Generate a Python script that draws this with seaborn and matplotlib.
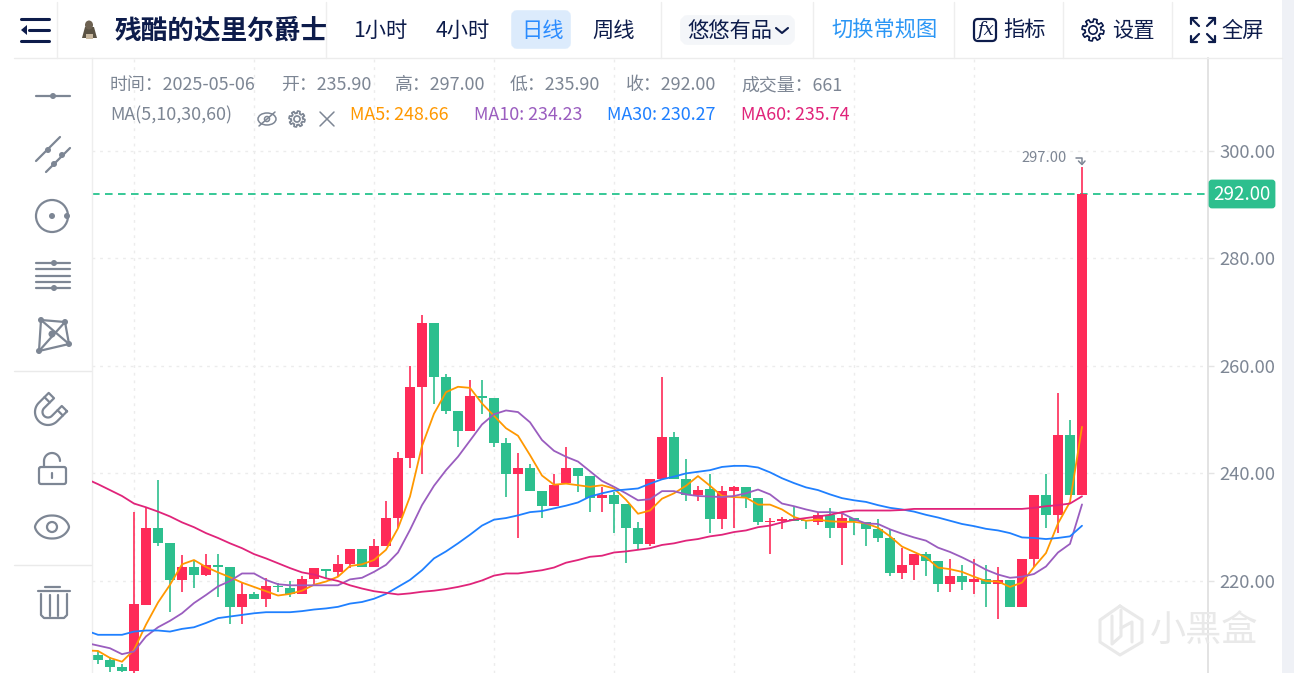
import numpy as np
import pandas as pd
import matplotlib
matplotlib.use('Agg')
import matplotlib.pyplot as plt
import seaborn as sns
from matplotlib.patches import Circle, Ellipse, FancyBboxPatch, Polygon, Rectangle

W, H = 1294, 673

# daily candles, first one sits at x=98, last one is 2025-05-06
opens = [206.2, 205.3, 204.0, 203.2, 215.6, 229.9, 227.1, 220.1, 222.6, 221.2,
         222.9, 222.6, 215.2, 217.6, 216.6, 219.0, 218.7, 217.6, 220.4, 222.3,
         221.7, 223.2, 226.0, 222.6, 226.5, 231.8, 242.9, 256.0, 268.0, 258.0,
         251.6, 247.9, 254.4, 254.1, 245.7, 239.9, 241.0, 236.8, 234.0, 238.2,
         241.0, 239.6, 235.4, 235.9, 234.3, 229.9, 226.8, 239.0, 246.8, 239.0,
         236.0, 237.1, 231.5, 236.8, 237.4, 235.4, 231.0, 231.2, 231.5, 231.4,
         231.0, 232.3, 229.9, 231.8, 231.0, 229.6, 227.9, 221.5, 222.9, 225.1,
         223.8, 219.5, 221.0, 219.9, 220.4, 219.5, 220.1, 215.1, 224.1, 236.0,
         232.3, 247.1, 235.9]
closes = [205.4, 204.0, 203.2, 215.8, 229.9, 227.1, 220.1, 222.6, 221.2, 222.9,
          222.6, 215.2, 217.6, 216.6, 219.0, 218.8, 217.6, 220.4, 222.4, 221.9,
          223.2, 226.0, 222.6, 226.5, 231.8, 242.9, 256.0, 268.0, 258.0, 251.6,
          247.9, 254.4, 254.1, 245.7, 239.9, 241.0, 236.8, 234.0, 237.9, 241.0,
          239.6, 235.4, 235.9, 234.3, 229.9, 226.8, 239.0, 246.8, 239.0, 236.0,
          237.0, 231.5, 236.8, 237.4, 235.4, 231.0, 231.2, 231.5, 231.2, 231.2,
          232.3, 229.9, 231.8, 231.2, 229.6, 227.9, 221.5, 222.9, 225.1, 223.8,
          219.5, 221.0, 219.9, 220.4, 219.5, 220.1, 215.1, 224.1, 236.0, 232.3,
          247.1, 236.0, 292.0]
highs = [206.9, 205.9, 204.5, 232.9, 233.8, 238.8, 227.1, 224.8, 223.7, 225.0,
         225.0, 222.6, 219.6, 218.0, 220.5, 219.6, 220.0, 221.0, 222.4, 222.3,
         224.8, 226.0, 226.0, 227.8, 234.8, 244.0, 259.9, 269.4, 268.0, 258.4,
         251.6, 257.4, 257.4, 254.1, 246.6, 243.8, 241.8, 236.8, 239.9, 244.9,
         241.0, 239.6, 237.4, 236.6, 234.3, 231.0, 239.0, 258.0, 247.7, 242.6,
         237.7, 239.9, 237.7, 237.7, 237.4, 235.4, 231.8, 231.9, 233.8, 231.4,
         232.9, 233.5, 232.6, 231.8, 231.0, 231.5, 229.6, 226.2, 225.1, 225.4,
         223.8, 224.0, 222.9, 224.0, 222.9, 222.6, 220.1, 224.1, 236.0, 239.9,
         255.0, 249.9, 297.0]
lows = [204.6, 203.0, 203.0, 202.6, 215.5, 226.5, 214.3, 217.9, 218.7, 221.0,
        217.1, 212.1, 212.1, 216.6, 215.2, 217.9, 217.1, 217.6, 219.5, 220.5,
        221.0, 222.4, 222.6, 222.6, 226.5, 229.9, 241.0, 239.9, 252.9, 251.0,
        244.9, 247.9, 251.0, 244.9, 235.7, 227.9, 236.8, 231.8, 234.0, 238.2,
        236.6, 232.9, 232.9, 229.0, 223.4, 226.0, 226.5, 239.0, 239.0, 234.9,
        234.9, 229.0, 229.6, 229.9, 233.5, 230.4, 225.1, 229.6, 231.2, 229.6,
        230.4, 227.9, 222.9, 228.5, 226.5, 227.3, 221.0, 220.4, 220.1, 221.0,
        217.9, 217.9, 218.4, 217.6, 215.1, 212.9, 215.1, 215.1, 222.6, 229.9,
        229.0, 236.0, 235.9]

# first value of each MA belongs to the day just left of the plot
ma5 = [207.1, 207.0, 205.7, 205.0, 207.2, 211.9, 216.0, 219.3, 223.1, 223.9, 222.6,
       221.6, 220.7, 219.7, 218.9, 218.1, 217.3, 217.6, 218.2, 219.3, 219.9,
       220.8, 222.8, 223.1, 223.9, 225.8, 229.8, 235.7, 245.1, 251.1, 255.1,
       256.1, 255.9, 253.0, 250.7, 248.4, 247.0, 243.4, 239.6, 237.9, 238.1,
       237.8, 237.5, 237.8, 237.2, 235.1, 232.5, 233.1, 235.3, 236.3, 237.7,
       239.5, 237.7, 235.8, 235.6, 235.5, 234.2, 234.2, 233.3, 231.9, 231.2,
       231.4, 231.1, 231.0, 231.0, 230.7, 229.9, 228.3, 226.4, 225.4, 224.4,
       222.5, 222.2, 221.7, 220.8, 220.0, 219.9, 218.9, 219.7, 222.6, 225.2,
       230.7, 234.7, 248.66]
ma10 = [208.5, 208.0, 207.5, 206.4, 206.9, 209.7, 211.4, 212.6, 214.0, 215.9, 217.4,
        219.0, 220.0, 221.4, 221.4, 220.2, 219.4, 219.2, 219.2, 219.2, 219.2,
        219.2, 220.3, 220.6, 221.7, 223.0, 225.3, 229.5, 234.1, 237.7, 240.6,
        243.1, 246.1, 249.1, 251.0, 251.7, 251.4, 249.5, 246.2, 244.2, 243.1,
        242.2, 240.4, 238.6, 237.5, 236.3, 235.0, 235.2, 236.7, 236.7, 236.1,
        235.8, 235.7, 235.6, 235.8, 236.3, 237.0, 236.1, 234.4, 233.9, 233.3,
        232.8, 232.8, 232.6, 231.5, 230.7, 230.6, 229.6, 228.8, 228.1, 227.5,
        226.2, 225.4, 224.4, 223.3, 222.1, 221.2, 220.6, 220.8, 221.3, 222.7,
        225.3, 226.9, 234.23]
ma30 = [210.8, 210.0, 210.0, 210.0, 210.6, 210.8, 210.8, 210.6, 211.1, 211.4, 212.2,
        213.1, 213.4, 213.7, 214.0, 214.2, 214.2, 214.2, 214.4, 214.7, 214.9,
        215.2, 215.8, 216.1, 216.7, 217.6, 218.9, 220.2, 222.0, 224.2, 225.5,
        227.0, 228.6, 230.3, 231.4, 231.7, 232.2, 232.8, 233.0, 233.5, 234.0,
        234.6, 235.7, 236.3, 236.8, 237.0, 237.2, 238.1, 238.9, 239.4, 240.0,
        240.3, 240.6, 241.2, 241.4, 241.4, 241.1, 240.2, 239.1, 238.2, 237.4,
        236.9, 236.1, 235.4, 235.0, 234.7, 234.1, 233.6, 233.3, 232.9, 232.3,
        231.8, 231.2, 230.6, 230.2, 229.7, 229.4, 228.9, 228.1, 228.0, 227.8,
        228.0, 228.3, 230.27]
ma60 = [239.0, 238.0, 236.9, 235.8, 234.4, 233.7, 232.9, 232.0, 230.9, 230.0, 228.9,
        228.0, 227.0, 226.1, 225.0, 224.2, 223.3, 222.4, 221.6, 221.2, 220.5,
        220.0, 219.2, 218.6, 218.1, 217.8, 217.5, 217.7, 218.0, 218.2, 218.5,
        218.9, 219.4, 220.1, 221.0, 221.4, 221.4, 221.7, 222.0, 222.5, 223.4,
        223.9, 224.5, 224.7, 225.3, 225.5, 225.8, 226.1, 226.7, 227.0, 227.5,
        227.8, 228.3, 228.6, 229.1, 229.4, 230.0, 230.3, 230.9, 231.4, 231.7,
        232.0, 232.3, 232.8, 233.1, 233.1, 233.1, 233.1, 233.2, 233.4, 233.4,
        233.4, 233.4, 233.4, 233.4, 233.4, 233.4, 233.4, 233.4, 233.6, 233.9,
        234.1, 234.4, 235.74]

y_ticks = [220, 240, 260, 280, 300]
last_price = 292.0

RED = '#fe2b58'
GREEN = '#2dbf8e'
GREY = '#7d8694'
NAVY = '#0d1c4b'
MA_COLORS = {'MA5': '#ff9800', 'MA10': '#9a5dbf', 'MA30': '#1f80ff', 'MA60': '#e0247a'}
COLON = '\uff1a'

sns.set_style('white')
plt.rcParams['font.family'] = ['Noto Sans CJK SC', 'DejaVu Sans']

fig = plt.figure(figsize=(W / 100, H / 100), dpi=100, facecolor='white')

# chart area in pixels: x 92..1208, y 58..673 ; 12 px per candle, 5.38 px per unit
ax = fig.add_axes([92 / W, 0, (1208 - 92) / W, (H - 58) / H])
ax.set_xlim((92 - 98) / 12, (1208 - 98) / 12)
ax.set_ylim(300 - (673 - 150.6) / 5.38, 300 + (150.6 - 58) / 5.38)

days = np.arange(len(opens))
o, c, hi, lo = map(np.array, (opens, closes, highs, lows))
up = c >= o
colors = np.where(up, RED, GREEN)

ax.vlines(days, lo, hi, colors=colors, linewidth=1.2, zorder=2)
ax.bar(days, np.maximum(np.abs(c - o), 0.2), bottom=np.minimum(o, c), width=0.88,
       color=colors, linewidth=0, zorder=2)

ma_days = np.arange(-1, len(opens))
ma_df = pd.DataFrame({'day': ma_days, 'MA5': ma5, 'MA10': ma10, 'MA30': ma30, 'MA60': ma60})
ma_df = ma_df.melt('day', var_name='ma', value_name='price')
sns.lineplot(data=ma_df, x='day', y='price', hue='ma', palette=MA_COLORS, linewidth=1.3,
             legend=False, ax=ax, zorder=3, errorbar=None)

ax.axhline(last_price, color='#26c48e', linewidth=1.3, linestyle=(0, (4.2, 3)), zorder=1.5)

ax.set_xlabel('')
ax.set_ylabel('')
ax.set_xticks(np.arange(3, 83, 10))
ax.tick_params(axis='x', length=0, labelbottom=False)
ax.yaxis.tick_right()
ax.set_yticks(y_ticks)
ax.set_yticklabels([f'{v:.2f}' for v in y_ticks], fontsize=13.3, color=GREY)
ax.tick_params(axis='y', length=4, width=1, color='#e4e4e4', pad=4.5, right=True, left=False)
ax.grid(True, color='#ececec', linewidth=1, linestyle=(0, (2, 3.5)), zorder=0)
ax.set_axisbelow(True)
for side in ['top', 'bottom']:
    ax.spines[side].set_visible(False)
ax.spines['left'].set_color('#eeeeee')
ax.spines['right'].set_color('#dedede')
ax.spines['left'].set_linewidth(1)
ax.spines['right'].set_linewidth(1.2)

# everything else (toolbar, icons, labels) goes on a pixel overlay
ui = fig.add_axes([0, 0, 1, 1], facecolor='none')
ui.set_xlim(0, W)
ui.set_ylim(H, 0)
ui.axis('off')


def txt(x, y, s, size=15.3, color=NAVY, **kw):
    kw.setdefault('ha', 'left')
    ui.text(x, y, s, fontsize=size, color=color, va='center', **kw)


def line(xs, ys, color=GREY, lw=1.5, **kw):
    ui.plot(xs, ys, color=color, lw=lw, solid_capstyle='round', **kw)


def dot(x, y, r=3, color=GREY):
    ui.add_patch(Circle((x, y), r, color=color, lw=0))


def gear(x, y, r, color):
    a = np.linspace(0, 2 * np.pi, 97)
    rad = r * (0.86 + 0.14 * np.sign(np.sin(8 * a)))
    ui.plot(x + rad * np.cos(a), y + rad * np.sin(a), color=color, lw=1.2)
    ui.add_patch(Circle((x, y), r * 0.38, fill=False, ec=color, lw=1.2))


# right strip and borders
ui.add_patch(Rectangle((1282, 0), 12, H, color='#eff1f6', lw=0))
line([14, 1282], [58, 58], color='#ececec', lw=1)
for sx in [57, 326, 661, 813, 954, 1063, 1172]:
    line([sx, sx], [2, 58], color='#eeeeee', lw=1)
line([14, 91], [371, 371], color='#eaeaea', lw=1)
line([14, 91], [565, 565], color='#eaeaea', lw=1)

# header
line([21, 49], [19, 19], color=NAVY, lw=2.2)
line([29, 49], [30, 30], color=NAVY, lw=2.2)
line([21, 49], [41, 41], color=NAVY, lw=2.2)
ui.add_patch(Polygon([[21, 30], [27, 25], [27, 35]], color=NAVY, lw=0))
ui.add_patch(Polygon([[82, 38], [85, 27], [94, 27], [97, 38]], color='#5b5344', lw=0))
ui.add_patch(Ellipse((89, 25), 8, 9, color='#6d6252', lw=0))
ui.add_patch(Rectangle((86, 34), 7, 5, color='#c9b9a0', lw=0))

txt(115, 31, '残酷的达里尔爵士', size=19.2, weight='bold')
txt(353, 31, '1小时')
txt(436, 31, '4小时')
ui.add_patch(FancyBboxPatch((514, 13), 54, 33, boxstyle='round,pad=0,rounding_size=3',
                            mutation_aspect=1, fc='#dcebfc', ec='#dcebfc', lw=4))
txt(521, 31, '日线', color='#2b8cff')
txt(592, 31, '周线')
ui.add_patch(FancyBboxPatch((685, 20), 105, 20, boxstyle='round,pad=0,rounding_size=3',
                            fc='#f4f6f9', ec='#f4f6f9', lw=7))
txt(687, 31, '悠悠有品')
line([776, 782, 788], [28, 33, 28], color=NAVY, lw=1.5)
txt(831, 31, '切换常规图', color='#2a96f5')
ui.add_patch(FancyBboxPatch((974, 19), 22, 22, boxstyle='round,pad=0,rounding_size=4',
                            fc='white', ec=NAVY, lw=1.6))
ui.text(985, 30, 'fx', fontsize=13, color=NAVY, ha='center', va='center',
        family='DejaVu Serif', style='italic')
txt(1003, 31, '指标')
gear(1093, 30, 11, NAVY)
txt(1112, 31, '设置')
for dx, dy in [(-1, -1), (1, -1), (-1, 1), (1, 1)]:
    ex, ey = 1203 + dx * 12, 30 + dy * 12
    line([ex, ex - dx * 8], [ey, ey - dy * 8], color=NAVY, lw=1.6)
    line([ex - dx * 6, ex, ex], [ey, ey, ey - dy * 6], color=NAVY, lw=1.6)
txt(1221, 31, '全屏')

# info rows
txt(110, 85, f'时间{COLON}2025-05-06', size=12.9, color=GREY)
txt(281, 85, f'开{COLON}235.90', size=12.9, color=GREY)
txt(395, 85, f'高{COLON}297.00', size=12.9, color=GREY)
txt(510, 85, f'低{COLON}235.90', size=12.9, color=GREY)
txt(626, 85, f'收{COLON}292.00', size=12.9, color=GREY)
txt(741, 85, f'成交量{COLON}661', size=12.9, color=GREY)
txt(110, 115, 'MA(5,10,30,60)', size=12.9, color=GREY)
txt(350, 115, 'MA5: 248.66', size=12.9, color=MA_COLORS['MA5'])
txt(474, 115, 'MA10: 234.23', size=12.9, color=MA_COLORS['MA10'])
txt(607, 115, 'MA30: 230.27', size=12.9, color=MA_COLORS['MA30'])
txt(741, 115, 'MA60: 235.74', size=12.9, color=MA_COLORS['MA60'])

ui.add_patch(Ellipse((267, 119), 18, 12, fill=False, ec=GREY, lw=1.1))
ui.add_patch(Circle((267, 119), 2.5, fill=False, ec=GREY, lw=1.1))
line([259, 275], [126, 112], lw=1.1)
gear(297, 119, 8, GREY)
line([320, 334], [112, 126], lw=1.1)
line([320, 334], [126, 112], lw=1.1)

# high marker and last price tag
txt(1021, 157.5, '297.00', size=10.6, color=GREY)
line([1076, 1082, 1082], [158, 158, 164], lw=1.1)
line([1078.5, 1082, 1085], [161, 164.5, 161], lw=1.1)
ui.add_patch(FancyBboxPatch((1210, 181), 64, 26, boxstyle='round,pad=0,rounding_size=2',
                            fc=GREEN, ec=GREEN, lw=2, zorder=4))
txt(1242, 195, '292.00', size=13.5, color='white', ha='center', zorder=5)

# drawing tools
line([36, 70], [96, 96], lw=1.6)
dot(53, 96)
line([36, 60], [161, 137], lw=1.6)
line([46, 70], [172, 148], lw=1.6)
dot(48, 150)
dot(54, 164)
dot(62, 155)
ui.add_patch(Circle((52, 216), 16, fill=False, ec=GREY, lw=1.6))
dot(52, 216)
dot(67, 216)
for ly in [263, 269, 276, 282, 288]:
    line([36, 70], [ly, ly], lw=1.6)
dot(54, 263)
dot(54, 288)
net = np.array([[41, 320], [65, 322], [69, 344], [39, 351], [41, 320]])
line(net[:, 0], net[:, 1], lw=1.6)
line([41, 69], [320, 344], lw=1.6)
line([65, 39], [322, 351], lw=1.6)
for px, py in net[:4]:
    dot(px, py)
dot(52, 334, r=3.5)

# magnet, open to the upper right
d = np.array([1, -1]) / np.sqrt(2)
n = np.array([1, 1]) / np.sqrt(2)
m0 = np.array([48, 412])
t = np.linspace(0, np.pi, 25)
outer = np.array([m0 + 13 * (np.cos(a) * n - np.sin(a) * d) for a in t])
inner = np.array([m0 + 5.5 * (np.cos(a) * n - np.sin(a) * d) for a in t[::-1]])
tip_a, tip_b = m0 + 13 * n + 14 * d, m0 + 5.5 * n + 14 * d
tip_c, tip_d = m0 - 5.5 * n + 14 * d, m0 - 13 * n + 14 * d
shape = np.vstack([tip_a, outer, tip_d, tip_c, inner, tip_b, tip_a])
line(shape[:, 0], shape[:, 1], lw=1.6)
for sgn in [1, -1]:
    k0 = m0 + sgn * 13 * n + 8 * d
    k1 = m0 + sgn * 5.5 * n + 8 * d
    line([k0[0], k1[0]], [k0[1], k1[1]], lw=1.6)

ui.add_patch(FancyBboxPatch((39, 467), 27, 17, boxstyle='round,pad=0,rounding_size=2',
                            fill=False, ec=GREY, lw=1.6))
a = np.linspace(np.pi, 2 * np.pi, 20)
line(52 + 8 * np.cos(a), 461 + 8 * np.sin(a), lw=1.6)
line([44, 44], [461, 467], lw=1.6)
line([52, 52], [473, 478], lw=1.6)

a = np.linspace(0, 2 * np.pi, 60)
line(52 + 17 * np.sign(np.cos(a)) * np.abs(np.cos(a)) ** 0.9,
     527 + 11.5 * np.sign(np.sin(a)) * np.abs(np.sin(a)) ** 1.3, lw=1.6)
ui.add_patch(Circle((52, 527), 5, fill=False, ec=GREY, lw=1.6))

line([38, 70], [591, 591], lw=1.6)
line([45, 60], [587, 587], lw=1.6)
line([41, 41, 44, 64, 67, 67], [594, 615, 618, 618, 615, 594], lw=1.6)
line([50, 50], [595, 616], lw=1.6)
line([58, 58], [595, 616], lw=1.6)

# watermark
WM = '#e9e9e9'
hexa = np.array([[1120, 606], [1142, 620], [1142, 642], [1120, 655], [1100, 642], [1100, 620], [1120, 606]])
line(hexa[:, 0], hexa[:, 1], color=WM, lw=2.2, zorder=6)
line([1112, 1112, 1121, 1121], [616, 644, 636, 610], color=WM, lw=2.2, zorder=6)
line([1121, 1132, 1132], [628, 622, 642], color=WM, lw=2.2, zorder=6)
txt(1150, 631, '小黑盒', size=26, color=WM, zorder=6)

fig.savefig('out.png', dpi=100)
